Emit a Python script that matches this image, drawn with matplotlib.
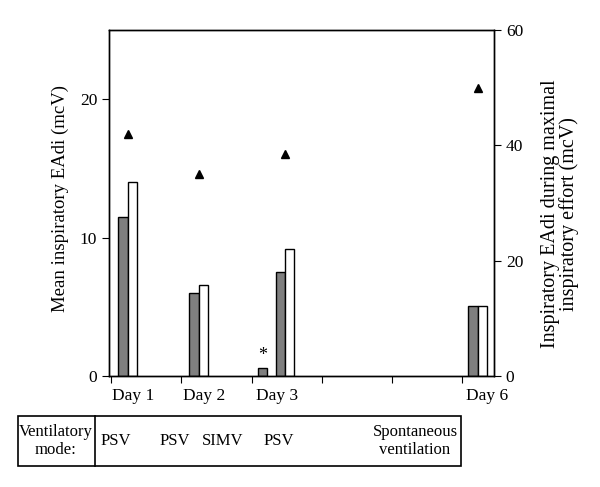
import matplotlib.pyplot as plt
import numpy as np

plt.rcParams['font.family'] = ['Liberation Serif', 'DejaVu Serif']

# values
day_labels = ['Day 1', 'Day 2', 'Day 3', 'Day 6']
mean_eadi = [11.5, 6.0, 7.5, 5.05]        # grey bars (left axis)
second_eadi = [14.0, 6.6, 9.2, 5.05]      # white bars (left axis)
simv_eadi = 0.55                          # small bar under SIMV, marked *
max_effort = [42, 35, 38.5, 50]           # triangles (right axis)
modes = ['PSV', 'PSV', 'SIMV', 'PSV', 'Spontaneous\nventilation']

# layout on the day axis (tick spacing = 1 unit)
group_x = np.array([0.238, 1.246, 2.475, 5.216])
simv_x = 2.152
label_x = [0.31, 1.33, 2.36, 5.35]
w = 0.135

fig = plt.figure(figsize=(6, 4.87), dpi=100)
ax = fig.add_axes([109/600, 1 - 376/487, 385/600, 346/487])

ax.bar(group_x - w/2, mean_eadi, width=w, color='#7f7f7f', edgecolor='black', linewidth=1)
ax.bar(group_x + w/2, second_eadi, width=w, color='white', edgecolor='black', linewidth=1)
ax.bar([simv_x], [simv_eadi], width=w, color='#7f7f7f', edgecolor='black', linewidth=1)
ax.text(simv_x, 1.45, '*', ha='center', va='center', fontsize=13)

ax.set_xlim(-0.03, 5.45)
ax.set_ylim(0, 25)
ax.set_yticks([0, 10, 20])
ax.set_xticks(np.arange(6))
ax.set_xticklabels([])
ax.set_xticks(label_x, minor=True)
ax.set_xticklabels(day_labels, minor=True)
ax.tick_params(axis='x', which='minor', length=0, pad=9, labelsize=12.5)
ax.tick_params(axis='x', which='major', direction='out', length=5)
ax.tick_params(axis='y', direction='out', length=5, labelsize=12.5)
ax.set_ylabel('Mean inspiratory EAdi (mcV)', fontsize=13.5, va='center')
ax.yaxis.set_label_coords((60 - 109) / 385, (376 - 199) / 346)

ax2 = ax.twinx()
ax2.plot(group_x, max_effort, linestyle='none', marker='^', color='black', markersize=6)
ax2.set_ylim(0, 60)
ax2.set_yticks([0, 20, 40, 60])
ax2.tick_params(axis='y', direction='out', length=5, labelsize=12.5)
ax2.set_ylabel('Inspiratory EAdi during maximal\ninspiratory effort (mcV)',
               fontsize=14.5, linespacing=0.95, va='center')
ax2.yaxis.set_label_coords((560 - 109) / 385, (376 - 214) / 346)

for a in (ax, ax2):
    for s in a.spines.values():
        s.set_linewidth(1)

# ventilatory mode table under the chart
x0, x1, xd = 18/600, 461/600, 95/600
y0, y1 = 1 - 466/487, 1 - 416/487
fig.add_artist(plt.Rectangle((x0, y0), x1 - x0, y1 - y0, transform=fig.transFigure,
                             fill=False, edgecolor='black', linewidth=1.2))
fig.add_artist(plt.Line2D([xd, xd], [y0, y1], transform=fig.transFigure,
                          color='black', linewidth=1.2))
ym = (y0 + y1) / 2
fig.text(56/600, ym, 'Ventilatory\nmode:', ha='center', va='center', fontsize=12,
         linespacing=1.1)
mode_x = [116, 175, 223, 279, 415]
for mx, m in zip(mode_x, modes):
    fig.text(mx/600, ym, m, ha='center', va='center', fontsize=12, linespacing=1.1)

fig.savefig('out.png', dpi=100)
